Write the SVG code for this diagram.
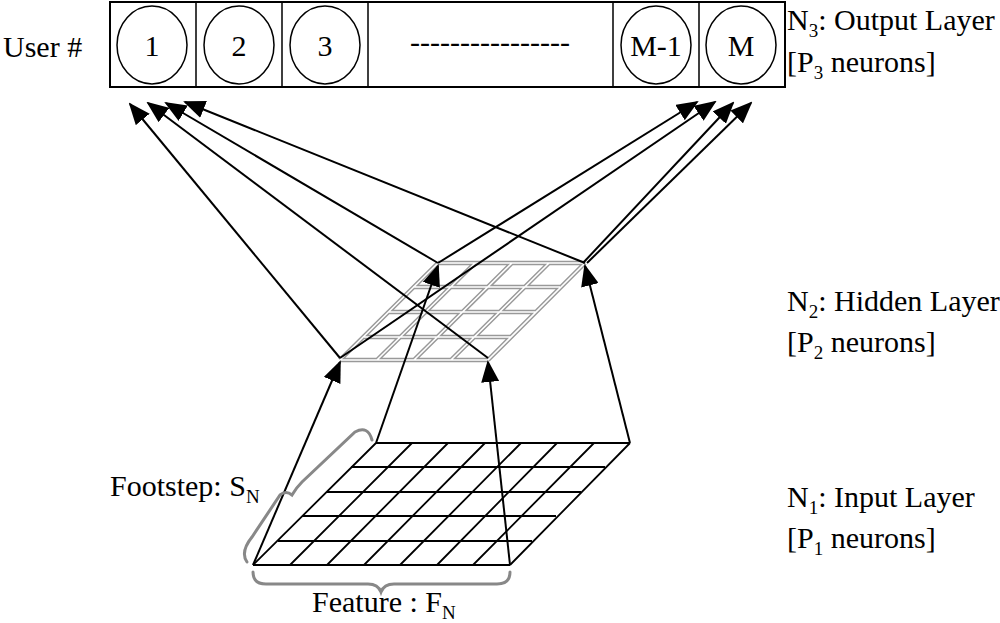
<svg xmlns="http://www.w3.org/2000/svg" width="1000" height="623" viewBox="0 0 1000 623">
<style>
text{font-family:"Liberation Serif",serif;font-size:30px;fill:#000}
.n{fill:#fff;stroke:#000;stroke-width:1.5}
.g{stroke:#000;stroke-width:1.8}
.hg{stroke:#999;stroke-width:4.5}
.hw{stroke:#fff;stroke-width:1.6}
.br{fill:none;stroke:#888;stroke-width:3;stroke-linecap:round}
.c{stroke:#000;stroke-width:2;fill:none;marker-end:url(#b)}
</style>
<defs>
<marker id="b" markerWidth="22" markerHeight="18" refX="20" refY="9" orient="auto" markerUnits="userSpaceOnUse" viewBox="0 0 22 18"><path d="M0,0L22,9L0,18z"/></marker></defs>
<g id="output">
<rect x="110" y="2" width="675" height="85" fill="#fff" stroke="#000" stroke-width="2"/>
<path d="M196,2V87M282,2V87M368,2V87M613,2V87M699,2V87" stroke="#000" stroke-width="1.5"/>
<ellipse class="n" cx="152" cy="45" rx="35" ry="39"/><text x="152" y="56" text-anchor="middle">1</text>
<ellipse class="n" cx="239" cy="45" rx="35" ry="39"/><text x="239" y="56" text-anchor="middle">2</text>
<ellipse class="n" cx="325" cy="45" rx="35" ry="39"/><text x="325" y="56" text-anchor="middle">3</text>
<text x="490" y="52" text-anchor="middle">----------------</text>
<ellipse class="n" cx="656" cy="45" rx="35" ry="39"/><text x="656" y="56" text-anchor="middle" font-size="26">M-1</text>
<ellipse class="n" cx="741" cy="45" rx="35" ry="39"/><text x="741" y="56" text-anchor="middle">M</text>
</g>
<g id="hidden">
<g class="hg"><path d="M438,263H585M413,287H560M389,312H536M364,337H511M340,360H488M340,360L438,263M377,360L475,263M414,360L512,263M451,360L549,263M488,360L585,263"/></g>
<g class="hw"><path d="M438,263H585M413,287H560M389,312H536M364,337H511M340,360H488M340,360L438,263M377,360L475,263M414,360L512,263M451,360L549,263M488,360L585,263"/></g>
</g>
<g id="input" class="g">
<path d="M376,443H630M351,467H605M327,492H581M302,516H556M278,541H532M253,565H510M253,565L376,443M290,565L412,443M327,565L448,443M364,565L485,443M400,565L521,443M437,565L557,443M473,565L594,443M510,565L630,443"/>
</g>
<g id="connectors">
<path class="c" d="M340,358L130,104"/>
<path class="c" d="M488,358L148,103"/>
<path class="c" d="M438,263L166,103"/>
<path class="c" d="M585,263L185,102"/>
<path class="c" d="M438,263L697,102"/>
<path class="c" d="M340,358L715,102"/>
<path class="c" d="M583,263L733,103"/>
<path class="c" d="M587,263L751,103"/>
<path class="c" d="M253,565L340,362"/>
<path class="c" d="M376,443L438,266"/>
<path class="c" d="M510,565L488,362"/>
<path class="c" d="M630,443L585,266"/>
</g>
<g id="braces">
<path class="br" d="M372,440Q368,425 355,432L302,482Q296,488 292,495Q286,490 280,495L252,537Q240,552 247,562"/>
<path class="br" d="M253,572Q253,584 266,584H368Q378,584 381,592Q384,584 394,584H497Q510,584 510,572"/>
</g>
<g id="labels">
<text x="3" y="57">User #</text>
<text x="787" y="30">N<tspan font-size="19" dy="7">3</tspan><tspan dy="-7">: Output Layer</tspan></text>
<text x="787" y="72">[P<tspan font-size="19" dy="7">3</tspan><tspan dy="-7"> neurons]</tspan></text>
<text x="787" y="311">N<tspan font-size="19" dy="7">2</tspan><tspan dy="-7">: Hidden Layer</tspan></text>
<text x="787" y="352">[P<tspan font-size="19" dy="7">2</tspan><tspan dy="-7"> neurons]</tspan></text>
<text x="787" y="507">N<tspan font-size="19" dy="7">1</tspan><tspan dy="-7">: Input Layer</tspan></text>
<text x="787" y="548">[P<tspan font-size="19" dy="7">1</tspan><tspan dy="-7"> neurons]</tspan></text>
<text x="110" y="496">Footstep: S<tspan font-size="19" dy="7">N</tspan></text>
<text x="312" y="612">Feature : F<tspan font-size="19" dy="7">N</tspan></text>
</g>
</svg>
